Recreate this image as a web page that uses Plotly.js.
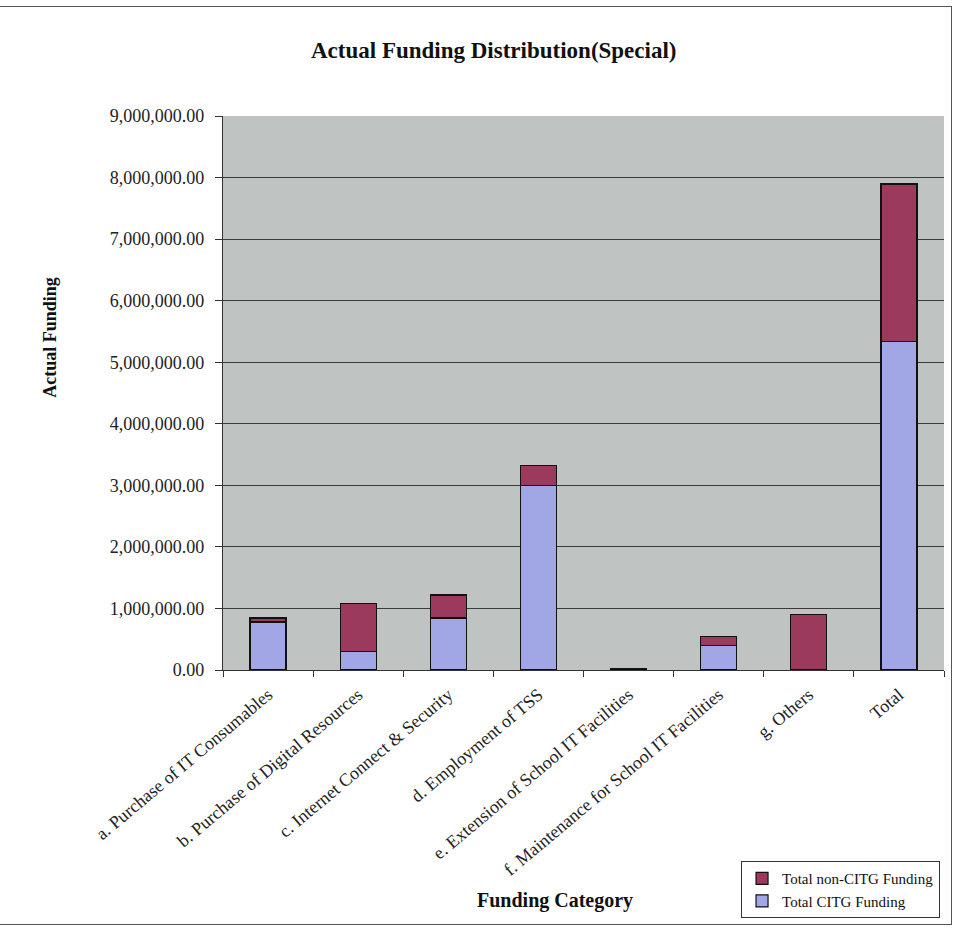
<!DOCTYPE html>
<html>
<head>
<meta charset="utf-8">
<script src="https://cdn.plot.ly/plotly-3.0.1.min.js"></script>
<style>
  html, body { margin: 0; padding: 0; background: #ffffff; }
  #wrap { position: relative; width: 955px; height: 929px; overflow: hidden; }
  #chart { position: absolute; left: 0; top: 0; width: 955px; height: 929px; }
  #frame { position: absolute; left: -8px; top: 6px; width: 960px; height: 919px;
           border: 1.5px solid #555555; pointer-events: none; box-sizing: border-box; }
</style>
</head>
<body>
<div id="wrap">
  <div id="chart"></div>
  <div id="frame"></div>
</div>
<script>
// Funding categories and amounts (HKD)
const categories = [
  "a. Purchase of IT Consumables",
  "b. Purchase of Digital Resources",
  "c. Internet Connect & Security",
  "d. Employment of TSS",
  "e. Extension of School IT Facilities",
  "f. Maintenance for School IT Facilities",
  "g. Others",
  "Total"
];
const citgFunding    = [780000, 300000, 845000, 2995000, 15000, 400000, 0, 5335000];
const nonCitgFunding = [ 65000, 780000, 375000,  330000, 15000, 150000, 905000, 2560000];
const yTickValues = [0, 1000000, 2000000, 3000000, 4000000, 5000000, 6000000, 7000000, 8000000, 9000000];
const yTickLabels = ["0.00", "1,000,000.00", "2,000,000.00", "3,000,000.00", "4,000,000.00",
                     "5,000,000.00", "6,000,000.00", "7,000,000.00", "8,000,000.00", "9,000,000.00"];

const serif = "Liberation Serif, Times New Roman, serif";

const traces = [
  {
    type: "bar",
    name: "Total CITG Funding",
    x: categories,
    y: citgFunding,
    marker: { color: "#a1a6e4", line: { color: "#111111", width: 1.2 } }
  },
  {
    type: "bar",
    name: "Total non-CITG Funding",
    x: categories,
    y: nonCitgFunding,
    marker: { color: "#9b3a5c", line: { color: "#111111", width: 1.2 } }
  }
];

const layout = {
  width: 955,
  height: 929,
  margin: { l: 223, r: 11, t: 116, b: 259 },
  paper_bgcolor: "#ffffff",
  plot_bgcolor: "#bfc3c2",
  barmode: "stack",
  bargap: 0.6,
  showlegend: true,
  font: { family: serif, color: "#111111", size: 18 },
  title: {
    text: "<b>Actual Funding Distribution(Special)</b>",
    font: { family: serif, size: 23, color: "#111111" },
    xref: "container", yref: "container",
    x: 0.517, y: 0.946, xanchor: "center", yanchor: "middle"
  },
  xaxis: {
    type: "category",
    tickangle: -40,
    tickfont: { family: serif, size: 18, color: "#222222" },
    ticks: "outside",
    tickson: "boundaries",
    ticklen: 6,
    tickcolor: "#333333",
    ticklabelstandoff: 6,
    showline: true,
    linecolor: "#333333",
    linewidth: 1.2,
    showgrid: false,
    fixedrange: true
  },
  yaxis: {
    range: [0, 9000000],
    tickmode: "array",
    tickvals: yTickValues,
    ticktext: yTickLabels,
    tickfont: { family: serif, size: 18, color: "#222222" },
    ticks: "outside",
    ticklen: 7,
    tickcolor: "#333333",
    ticklabelstandoff: 7,
    showline: true,
    linecolor: "#333333",
    linewidth: 1.2,
    showgrid: true,
    gridcolor: "#3a3a3a",
    gridwidth: 1,
    zeroline: false,
    fixedrange: true
  },
  legend: {
    traceorder: "reversed",
    x: 0.9945, y: -0.345,
    xanchor: "right", yanchor: "top",
    bgcolor: "#ffffff",
    bordercolor: "#333333",
    borderwidth: 1,
    font: { family: serif, size: 15, color: "#111111" },
    itemwidth: 30,
    tracegroupgap: 0
  },
  annotations: [
    {
      text: "<b>Actual Funding</b>",
      xref: "paper", yref: "paper",
      x: -0.257, y: 0.601,
      textangle: -90,
      showarrow: false,
      font: { family: serif, size: 18, color: "#111111" }
    },
    {
      text: "<b>Funding Category</b>",
      xref: "paper", yref: "paper",
      x: 0.46, y: -0.44,
      showarrow: false,
      font: { family: serif, size: 20, color: "#111111" }
    }
  ]
};

Plotly.newPlot("chart", traces, layout, { displayModeBar: false, staticPlot: true });
</script>
</body>
</html>
